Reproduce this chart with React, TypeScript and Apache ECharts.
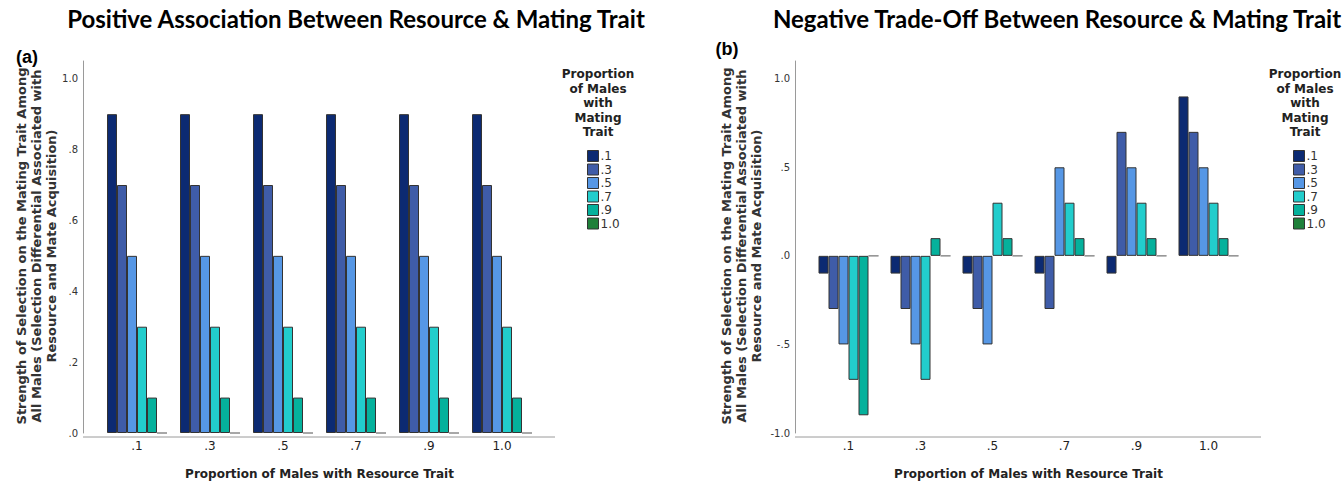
import React, { useEffect, useRef } from 'react';
import * as echarts from 'echarts';

// Categories (x axis): proportion of males with resource trait
const categories = ['.1', '.3', '.5', '.7', '.9', '1.0'];
// Series: proportion of males with mating trait
const groupNames = ['.1', '.3', '.5', '.7', '.9', '1.0'];
const colors = ['#0c2a72', '#3f5ca8', '#5697e5', '#22cdcc', '#05b19c', '#1f803a'];

// Panel (a): positive association
const posM01 = [0.9, 0.9, 0.9, 0.9, 0.9, 0.9];
const posM03 = [0.7, 0.7, 0.7, 0.7, 0.7, 0.7];
const posM05 = [0.5, 0.5, 0.5, 0.5, 0.5, 0.5];
const posM07 = [0.3, 0.3, 0.3, 0.3, 0.3, 0.3];
const posM09 = [0.1, 0.1, 0.1, 0.1, 0.1, 0.1];
const posM10 = [0, 0, 0, 0, 0, 0];

// Panel (b): negative trade-off
const negM01 = [-0.1, -0.1, -0.1, -0.1, -0.1, 0.9];
const negM03 = [-0.3, -0.3, -0.3, -0.3, 0.7, 0.7];
const negM05 = [-0.5, -0.5, -0.5, 0.5, 0.5, 0.5];
const negM07 = [-0.7, -0.7, 0.3, 0.3, 0.3, 0.3];
const negM09 = [-0.9, 0.1, 0.1, 0.1, 0.1, 0.1];
const negM10 = [0, 0, 0, 0, 0, 0];

const posSeries = [posM01, posM03, posM05, posM07, posM09, posM10];
const negSeries = [negM01, negM03, negM05, negM07, negM09, negM10];

const titleA = 'Positive Association Between Resource & Mating Trait';
const titleB = 'Negative Trade-Off Between Resource & Mating Trait';
const yName = 'Strength of Selection on the Mating Trait Among\nAll Males (Selection Differential Associated with\nResource and Mate Acquisition)';
const xName = 'Proportion of Males with Resource Trait';
const legendTitle = 'Proportion\nof Males\nwith\nMating\nTrait';

const FONT = 'DejaVu Sans';

const fmt = (interval: number) => (v: number) => {
  const k = v / interval;
  if (Math.abs(k - Math.round(k)) > 1e-6) return '';
  return v.toFixed(1).replace(/^(-?)0\./, '$1.');
};

export default function App() {
  const ref = useRef<HTMLDivElement>(null);
  useEffect(() => {
    document.body.style.margin = '0';
    const chart = echarts.init(ref.current!, null, { renderer: 'svg' });

    const yAxisCommon = {
      type: 'value',
      offset: 17.5,
      axisLine: { show: true, lineStyle: { color: '#9a9a9a', width: 1 } },
      axisTick: { show: false },
      splitLine: { show: false },
    };
    const xAxisCommon = {
      type: 'category',
      data: categories,
      axisLine: { show: false, onZero: false },
      axisTick: { show: false },
      axisLabel: { fontSize: 12, color: '#222', margin: 7, fontFamily: FONT },
      name: xName,
      nameLocation: 'middle',
      nameGap: 35,
      nameTextStyle: { fontWeight: 'bold', fontSize: 12, fontFamily: FONT, color: '#222' },
    };

    const makeSeries = (arrs: number[][], axisIndex: number) =>
      arrs.map((d, i) => ({
        type: 'bar',
        name: groupNames[i],
        xAxisIndex: axisIndex,
        yAxisIndex: axisIndex,
        data: d,
        barWidth: 10,
        barGap: '0%',
        itemStyle: {
          color: colors[i],
          borderColor: i === 5 ? '#8a8a8a' : '#333',
          borderWidth: 1,
        },
      }));

    const legendData = groupNames.map((n) => ({ name: n, itemStyle: { borderColor: '#333', borderWidth: 1 } }));
    const legendCommon = {
      orient: 'vertical',
      top: 145,
      itemWidth: 11,
      itemHeight: 11,
      itemGap: 1.5,
      icon: 'rect',
      data: legendData,
      textStyle: { fontSize: 12, color: '#333', fontFamily: FONT, padding: [0, 0, 0, -3] },
      selectedMode: false,
    };

    const textEl = (x: number, y: number, text: string, style: any, rotation = 0) => ({
      type: 'text',
      x,
      y,
      rotation,
      style: { text, textAlign: 'center', textVerticalAlign: 'middle', fill: '#222', ...style },
    });

    chart.setOption({
      animation: false,
      grid: [
        { left: 100.5, top: 61, width: 438, height: 376 },
        { left: 812.5, top: 61, width: 432, height: 376 },
      ],
      xAxis: [
        { ...xAxisCommon, gridIndex: 0 },
        { ...xAxisCommon, gridIndex: 1 },
      ],
      yAxis: [
        {
          ...yAxisCommon,
          gridIndex: 0,
          min: 0,
          max: 1.05,
          interval: 0.2,
          axisLabel: { formatter: fmt(0.2), fontSize: 10, color: '#333', fontFamily: FONT, margin: 5 },
        },
        {
          ...yAxisCommon,
          gridIndex: 1,
          min: -1,
          max: 1.1,
          interval: 0.5,
          axisLabel: { formatter: fmt(0.5), fontSize: 10, color: '#333', fontFamily: FONT, margin: 5 },
        },
      ],
      legend: [
        { ...legendCommon, left: 582 },
        { ...legendCommon, left: 1288 },
      ],
      series: [...makeSeries(posSeries, 0), ...makeSeries(negSeries, 1)],
      graphic: [
        { type: 'line', shape: { x1: 83, y1: 437, x2: 555, y2: 437 }, style: { stroke: '#9a9a9a', lineWidth: 1 } },
        { type: 'line', shape: { x1: 795, y1: 437, x2: 1261, y2: 437 }, style: { stroke: '#9a9a9a', lineWidth: 1 } },
        textEl(356, 18, titleA, { font: 'bold 24px Lato', fill: '#000' }),
        textEl(1057, 18, titleB, { font: 'bold 24px Lato', fill: '#000' }),
        textEl(27, 57, '(a)', { font: 'bold 18px "Liberation Sans"', fill: '#000' }),
        textEl(727, 49, '(b)', { font: 'bold 18px "Liberation Sans"', fill: '#000' }),
        textEl(36, 246, yName, { font: `bold 13px "${FONT}"`, lineHeight: 15, fill: '#333' }, Math.PI / 2),
        textEl(741, 246, yName, { font: `bold 13px "${FONT}"`, lineHeight: 15, fill: '#333' }, Math.PI / 2),
        textEl(598, 103, legendTitle, { font: `bold 12px "${FONT}"`, lineHeight: 14.5, fill: '#222' }),
        textEl(1305, 103, legendTitle, { font: `bold 12px "${FONT}"`, lineHeight: 14.5, fill: '#222' }),
      ],
    });
    return () => chart.dispose();
  }, []);
  return <div ref={ref} style={{ width: 1343, height: 485 }} />;
}
